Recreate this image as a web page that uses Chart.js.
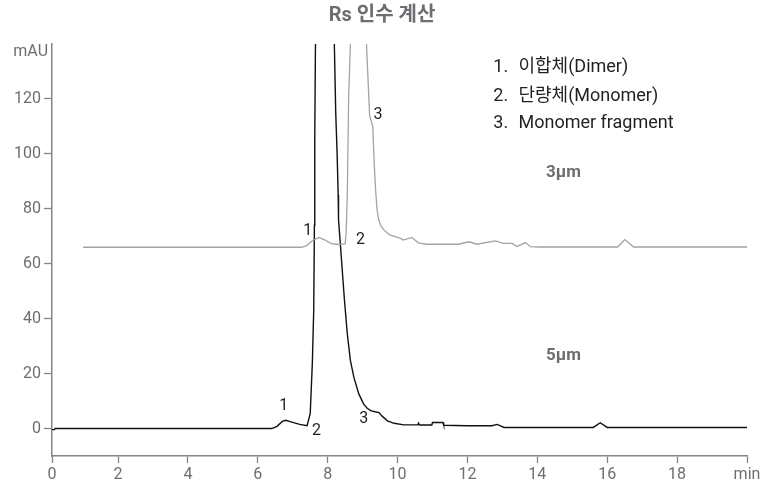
<!DOCTYPE html>
<html>
<head>
<meta charset="utf-8">
<script src="https://cdn.jsdelivr.net/npm/chart.js@4/dist/chart.umd.min.js"></script>
<style>
  body { margin: 0; background: #fff; }
</style>
</head>
<body>
<canvas id="chart" width="764" height="489"></canvas>
<script>
// 5µm column trace (black): time in min, signal in mAU
const time5 = [0, 0.18, 0.2, 6.4, 6.55, 6.7, 6.8, 6.95, 7.2, 7.41, 7.5, 7.56, 7.6, 7.62, 7.63, 7.65, 7.92,
  8.19, 8.23, 8.27, 8.3, 8.31, 8.36, 8.41, 8.48, 8.56, 8.65, 8.75, 8.89, 9.03, 9.13, 9.23, 9.35, 9.47, 9.55,
  9.71, 9.9, 10.18, 10.58, 10.6, 10.63, 10.98, 11.0, 11.3, 11.32, 12.0, 12.7, 12.85, 13.05, 15.6, 15.8, 16.0, 20];
const signal5 = [-0.4, -0.4, 0, 0, 0.8, 2.6, 3.0, 2.4, 1.5, 1.0, 5.4, 23.6, 43, 74, 106, 140, 420,
  140, 115, 100, 85, 76, 67.5, 58.8, 46.7, 34.6, 24.7, 18.6, 12.6, 8.9, 7.4, 6.5, 6.1, 5.8, 4.6,
  2.8, 1.9, 1.35, 1.35, 2.0, 1.3, 1.3, 2.2, 2.2, 1.2, 1.0, 1.0, 1.5, 0.4, 0.4, 2.1, 0.4, 0.4];

// 3µm column trace (gray)
const time3 = [1.0, 7.25, 7.4, 7.55, 7.75, 7.9, 8.1, 8.3, 8.5, 8.53, 8.56, 8.6, 8.65, 8.85,
  9.11, 9.2, 9.29, 9.33, 9.37, 9.41, 9.46, 9.52, 9.6, 9.7, 9.79, 10.07, 10.16, 10.41, 10.59, 10.84, 11.74, 12.05, 12.27,
  12.8, 13.03, 13.28, 13.42, 13.66, 13.8, 14.06, 16.3, 16.5, 16.76, 20];
const signal3 = [66, 66, 66.6, 68.3, 69.6, 68.8, 67.3, 67.0, 67.2, 72, 84, 121, 140, 300,
  140, 114, 110, 97, 87, 80, 76, 73.8, 72.4, 71.3, 70.4, 69.3, 68.6, 69.6, 67.6, 67.1, 67.1, 68, 67.1,
  68.3, 67.4, 67.4, 66.3, 67.7, 66.2, 66.1, 66.1, 68.8, 66.1, 66.1];

// peak numbers: [min, mAU, text]
const peakLabels5 = [[6.74, 8.3, '1'], [7.68, -0.8, '2'], [9.03, 3.5, '3']];
const peakLabels3 = [[7.43, 72, '1'], [8.94, 68.8, '2'], [9.44, 114.3, '3']];

const legendNums = ['1.', '2.', '3.'];
const legendTexts = ['이합체(Dimer)', '단량체(Monomer)', 'Monomer fragment'];

// the printed axis starts a touch after 0 min; its first tick sits at the axis corner
const xStart = 0.11;
const xTickValues = [xStart, 2, 4, 6, 8, 10, 12, 14, 16, 18, 20];
const xTickLabels = ['0', '2', '4', '6', '8', '10', '12', '14', '16', '18', 'min'];
const yTicks = [0, 20, 40, 60, 80, 100, 120];

const FONT = "Roboto, 'Noto Sans CJK KR', sans-serif";
const GRAY_TEXT = '#6d6e71';
const AXIS = '#858585';

function toPoints(xs, ys) {
  return xs.map((x, i) => ({ x: x, y: ys[i] }));
}

const textPlugin = {
  id: 'texts',
  afterDatasetsDraw(chart) {
    const ctx = chart.ctx;
    const xs = chart.scales.x, ys = chart.scales.y;
    ctx.save();
    ctx.textBaseline = 'middle';

    // peak numbers
    ctx.fillStyle = '#231f20';
    ctx.font = '16px ' + FONT;
    ctx.textAlign = 'center';
    peakLabels5.concat(peakLabels3).forEach(p => {
      ctx.fillText(p[2], xs.getPixelForValue(p[0]), ys.getPixelForValue(p[1]));
    });

    // legend block
    ctx.font = '18px ' + FONT;
    ctx.textAlign = 'left';
    const legY = [131.4, 120.8, 111];
    legendNums.forEach((n, i) => {
      const y = ys.getPixelForValue(legY[i]);
      ctx.fillText(n, xs.getPixelForValue(12.74), y);
      ctx.fillText(legendTexts[i], xs.getPixelForValue(13.46), y);
    });

    // column labels
    ctx.fillStyle = GRAY_TEXT;
    ctx.font = 'bold 17px ' + FONT;
    ctx.textAlign = 'center';
    ctx.fillText('3µm', xs.getPixelForValue(14.75), ys.getPixelForValue(93));
    ctx.fillText('5µm', xs.getPixelForValue(14.75), ys.getPixelForValue(26.6));

    // unit label
    ctx.font = '16px ' + FONT;
    ctx.textAlign = 'right';
    ctx.fillText('mAU', 48, ys.getPixelForValue(140) + 8);
    ctx.restore();
  }
};

new Chart(document.getElementById('chart'), {
  type: 'scatter',
  data: {
    datasets: [
      {
        label: '3µm',
        data: toPoints(time3, signal3),
        showLine: true,
        borderColor: '#a3a3a3',
        borderWidth: 1.3,
        pointRadius: 0,
        tension: 0
      },
      {
        label: '5µm',
        data: toPoints(time5, signal5),
        showLine: true,
        borderColor: '#111111',
        borderWidth: 1.4,
        pointRadius: 0,
        tension: 0
      }
    ]
  },
  options: {
    responsive: false,
    animation: false,
    devicePixelRatio: 1,
    layout: { padding: 0 },
    plugins: {
      legend: { display: false },
      tooltip: { enabled: false },
      title: {
        display: true,
        text: 'Rs 인수 계산',
        color: GRAY_TEXT,
        font: { family: FONT, size: 20, weight: 'bold' },
        padding: { top: 4, bottom: 16 }
      }
    },
    scales: {
      x: {
        type: 'linear',
        min: xStart,
        max: 20,
        afterFit(scale) { scale.height = 33; },
        afterBuildTicks(scale) { scale.ticks = xTickValues.map(v => ({ value: v })); },
        border: { color: AXIS, width: 1.5 },
        grid: { drawOnChartArea: false, tickLength: 7, tickColor: AXIS, tickWidth: 1.3 },
        ticks: {
          padding: 2,
          color: GRAY_TEXT,
          font: { family: FONT, size: 16 },
          maxRotation: 0,
          autoSkip: false,
          callback: (v, i) => xTickLabels[i]
        }
      },
      y: {
        type: 'linear',
        min: -10,
        max: 140,
        afterFit(scale) { scale.width = 52; },
        afterBuildTicks(scale) { scale.ticks = yTicks.map(v => ({ value: v })); },
        border: { color: AXIS, width: 1.5 },
        grid: { drawOnChartArea: false, tickLength: 8, tickColor: AXIS, tickWidth: 1.3 },
        ticks: {
          padding: 3,
          color: GRAY_TEXT,
          font: { family: FONT, size: 16 }
        }
      },
      // empty right margin, keeps the title centred on the whole page
      yRight: {
        type: 'linear',
        position: 'right',
        afterFit(scale) { scale.width = 17; },
        grid: { display: false },
        border: { display: false },
        ticks: { display: false }
      }
    }
  },
  plugins: [textPlugin]
});
</script>
</body>
</html>
